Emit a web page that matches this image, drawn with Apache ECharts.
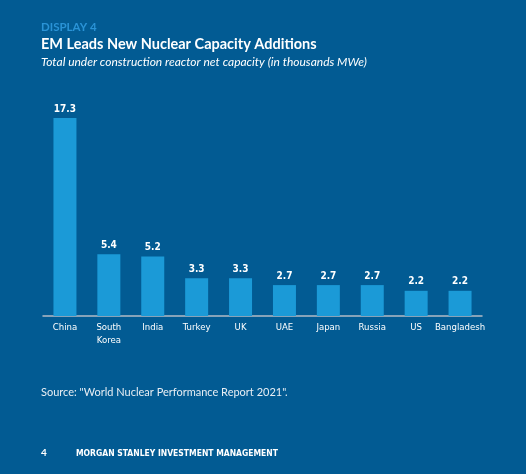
<!DOCTYPE html>
<html>
<head>
<meta charset="utf-8">
<script src="https://cdn.jsdelivr.net/npm/echarts@6/dist/echarts.min.js"></script>
<style>
  html, body { margin: 0; padding: 0; background: #025b93; }
  #chart { width: 526px; height: 474px; }
</style>
</head>
<body>
<div id="chart"></div>
<script>
const countries = ['China', 'South\nKorea', 'India', 'Turkey', 'UK', 'UAE', 'Japan', 'Russia', 'US', 'Bangladesh'];
const capacity = [17.3, 5.4, 5.2, 3.3, 3.3, 2.7, 2.7, 2.7, 2.2, 2.2];

const narrow = '"DejaVu Sans Condensed", "Liberation Sans Narrow", "Roboto", sans-serif';
const chart = echarts.init(document.getElementById('chart'));

const option = {
  backgroundColor: '#025b93',
  animation: false,
  title: [
    {
      text: 'DISPLAY 4',
      left: 41, top: 21, padding: 0,
      textStyle: { color: '#2a93d6', fontSize: 11.5, fontWeight: 'bold', fontFamily: 'Lato' },
    },
    {
      text: 'EM Leads New Nuclear Capacity Additions',
      left: 41, top: 37, padding: 0,
      textStyle: { color: '#ffffff', fontSize: 14.5, fontWeight: 'bold', fontFamily: 'Lato' },
    },
    {
      text: 'Total under construction reactor net capacity (in thousands MWe)',
      left: 41, top: 56, padding: 0,
      textStyle: { color: '#ffffff', fontSize: 12, fontStyle: 'italic', fontWeight: 'normal', fontFamily: 'Lato' },
    },
    {
      text: 'Source: "World Nuclear Performance Report 2021".',
      left: 41, top: 387, padding: 0,
      textStyle: { color: '#e8eef4', fontSize: 11, fontWeight: 'normal', fontFamily: 'Lato' },
    },
    {
      text: '4',
      left: 41, top: 448, padding: 0,
      textStyle: { color: '#ffffff', fontSize: 10, fontWeight: 'bold', fontFamily: 'Lato' },
    },
    {
      text: 'MORGAN STANLEY INVESTMENT MANAGEMENT',
      left: 76, top: 449, padding: 0,
      textStyle: { color: '#ffffff', fontSize: 8.5, fontWeight: 'bold', fontFamily: narrow },
    },
  ],
  grid: { left: 43, right: 44, top: 110, bottom: 158 },
  xAxis: {
    type: 'category',
    data: countries,
    axisLine: { lineStyle: { color: '#b4bcc6', width: 1.5 } },
    axisTick: { show: false },
    axisLabel: {
      color: '#ffffff', fontSize: 9.5, fontFamily: narrow,
      margin: 5, lineHeight: 13, interval: 0,
    },
  },
  yAxis: {
    type: 'value',
    min: 0, max: 18,
    show: false,
    splitLine: { show: false },
  },
  series: [
    {
      type: 'bar',
      data: capacity,
      barWidth: 23,
      itemStyle: { color: '#1b9ad7' },
      label: {
        show: true,
        position: 'top',
        distance: 4,
        color: '#ffffff',
        fontSize: 10,
        fontWeight: 'bold',
        fontFamily: narrow,
        formatter: p => p.value.toFixed(1),
      },
    },
  ],
};

chart.setOption(option);
</script>
</body>
</html>
